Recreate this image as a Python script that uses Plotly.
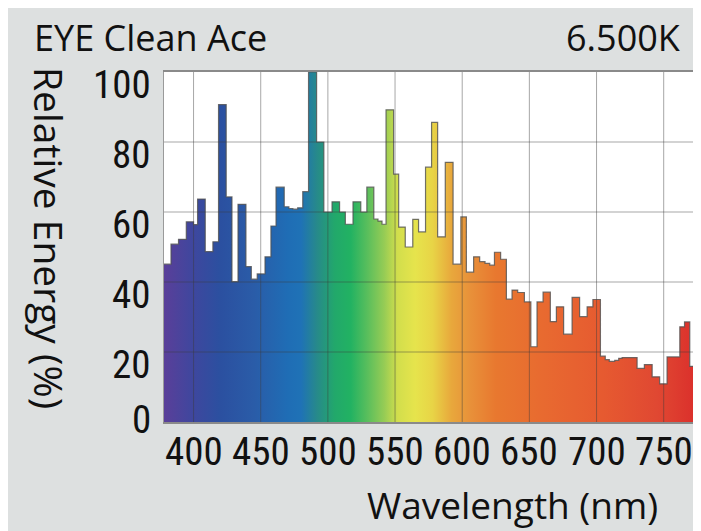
import plotly.graph_objects as go

# ---- data ----
step_start_nm = [378.0, 383.2, 388.8, 394.6, 400.0, 403.0, 408.7, 414.4, 418.6, 424.3,
                 428.6, 433.1, 439.0, 443.0, 447.4, 453.2, 457.6, 461.4, 467.5, 471.0,
                 474.0, 477.5, 481.3, 485.6, 491.6, 497.0, 503.1, 508.7, 513.0, 518.7,
                 524.5, 529.0, 534.2, 537.3, 540.3, 543.3, 548.9, 552.7, 557.6, 563.2,
                 567.5, 572.7, 577.2, 581.7, 587.4, 593.2, 599.0, 603.1, 608.5, 613.0,
                 617.0, 620.5, 624.0, 628.6, 632.9, 637.1, 641.3, 646.3, 651.1, 655.7,
                 660.2, 665.6, 670.1, 675.5, 681.8, 687.4, 693.0, 697.3, 702.9, 706.5,
                 709.5, 713.5, 716.5, 719.0, 730.2, 735.6, 741.4, 747.0, 752.5, 762.0,
                 765.5, 769.4, 773.9]
relative_energy = [45.1, 50.8, 52.2, 57.2, 56.4, 63.7, 48.7, 51.5, 90.7, 64.3,
                   40.1, 62.2, 44.4, 40.8, 42.3, 47.2, 56.0, 67.1, 61.5, 61.0,
                   60.8, 61.2, 65.8, 100.0, 80.0, 60.0, 62.9, 60.0, 56.5, 62.9,
                   60.0, 67.1, 58.0, 57.4, 56.5, 89.2, 70.8, 55.7, 50.0, 57.9,
                   54.3, 72.8, 85.6, 52.9, 74.2, 45.1, 58.6, 42.8, 47.2, 45.8,
                   45.3, 44.8, 48.5, 46.5, 35.1, 37.7, 37.0, 34.3, 21.5, 34.3,
                   37.1, 28.7, 32.9, 25.1, 35.6, 30.1, 32.9, 35.0, 18.8, 17.8,
                   17.3, 17.6, 18.2, 18.4, 15.3, 16.4, 12.9, 10.9, 18.6, 27.2,
                   28.6, 15.9, 18.6]
spectrum_end_nm = 780.0

x_ticks = [400, 450, 500, 550, 600, 650, 700, 750]
y_ticks = [0, 20, 40, 60, 80, 100]

color_stop_nm = [378, 400, 420, 445, 470, 480, 492, 505, 517, 530, 542, 552, 565, 578,
                 592, 605, 625, 660, 705, 745, 780]
color_stop_rgb = ["#5a3f99", "#3e479e", "#2b50a0", "#2a5ca8", "#1f6db5", "#1f72b6",
                  "#278a8a", "#22a86b", "#22b262", "#5cbf5c", "#96cc55", "#d2de4c",
                  "#e6e44c", "#e8d446", "#e8a83c", "#e8923a", "#e8782f", "#e86a30",
                  "#e65a30", "#e04832", "#da2a2a"]

title_left = "EYE Clean Ace"
title_right = "6.500K"
x_title = "Wavelength (nm)"
y_title = "Relative Energy (%)"

TEXT_FONT = "Open Sans, Noto Sans, sans-serif"
NUM_FONT = "Roboto Condensed, Liberation Sans Narrow, DejaVu Sans Condensed, sans-serif"

# ---- geometry of the plot area (figure pixels) ----
L, T, PW, PH = 156, 64, 540, 350


def px(xp):
    return (xp - L) / PW


def py(yp):
    return (T + PH - yp) / PH


# ---- figure ----
x_vals = step_start_nm + [spectrum_end_nm]
y_vals = relative_energy + [relative_energy[-1]]

lo, hi = color_stop_nm[0], color_stop_nm[-1]
colorscale = [[(w - lo) / (hi - lo), c] for w, c in zip(color_stop_nm, color_stop_rgb)]

fig = go.Figure()
fig.add_trace(go.Scatter(
    x=x_vals, y=y_vals, mode="lines", line_shape="hv",
    line=dict(color="rgba(80,80,80,0.8)", width=1.2),
    fill="tozeroy",
    fillgradient=dict(type="horizontal", colorscale=colorscale, start=lo, stop=hi),
    hoverinfo="skip", showlegend=False,
))

shapes = []
grid_line = dict(color="rgba(60,60,60,0.45)", width=1)
for xv in x_ticks:
    shapes.append(dict(type="line", xref="x", yref="paper", x0=xv, x1=xv, y0=0, y1=1,
                       line=grid_line, layer="above"))
for yv in y_ticks[1:-1]:
    shapes.append(dict(type="line", xref="paper", yref="y", x0=0, x1=1, y0=yv, y1=yv,
                       line=grid_line, layer="above"))

annotations = [
    dict(text=title_left, xref="paper", yref="paper", x=px(24), y=py(30),
         xanchor="left", yanchor="middle", showarrow=False,
         font=dict(family=TEXT_FONT, size=36, color="#111")),
    dict(text=title_right, xref="paper", yref="paper", x=px(675), y=py(30),
         xanchor="right", yanchor="middle", showarrow=False,
         font=dict(family=TEXT_FONT, size=36, color="#111")),
    dict(text=y_title, xref="paper", yref="paper", x=px(42), y=py(230),
         xanchor="center", yanchor="middle", textangle=90, showarrow=False,
         font=dict(family=TEXT_FONT, size=39, color="#111")),
    dict(text=x_title, xref="paper", yref="paper", x=px(504), y=py(496),
         xanchor="center", yanchor="middle", showarrow=False,
         font=dict(family=TEXT_FONT, size=37, color="#111")),
]
for yv in y_ticks:
    annotations.append(dict(text=str(yv), xref="paper", yref="y", x=px(145), y=yv,
                            xanchor="right", yanchor="middle", showarrow=False,
                            yshift=2 if yv == 0 else -13,
                            font=dict(family=NUM_FONT, size=39, color="#111", weight=400)))
for xv in x_ticks:
    annotations.append(dict(text=str(xv), xref="x", yref="paper", x=xv, y=py(444),
                            xanchor="center", yanchor="middle", showarrow=False,
                            font=dict(family=NUM_FONT, size=39, color="#111", weight=400)))

fig.update_layout(
    width=701, height=531,
    margin=dict(l=L, r=701 - L - PW, t=T, b=531 - T - PH),
    paper_bgcolor="#dde0e0", plot_bgcolor="white",
    shapes=shapes, annotations=annotations,
    xaxis=dict(range=[378, 780], showgrid=False, zeroline=False,
               showline=True, linecolor="#8a8a8a", linewidth=1.5, mirror=True,
               ticks="", showticklabels=False),
    yaxis=dict(range=[0, 100], showgrid=False, zeroline=False,
               showline=True, linecolor="#9a9a9a", linewidth=1.2, mirror=True,
               showticklabels=False, ticks=""),
)

fig.write_html("out.html")
